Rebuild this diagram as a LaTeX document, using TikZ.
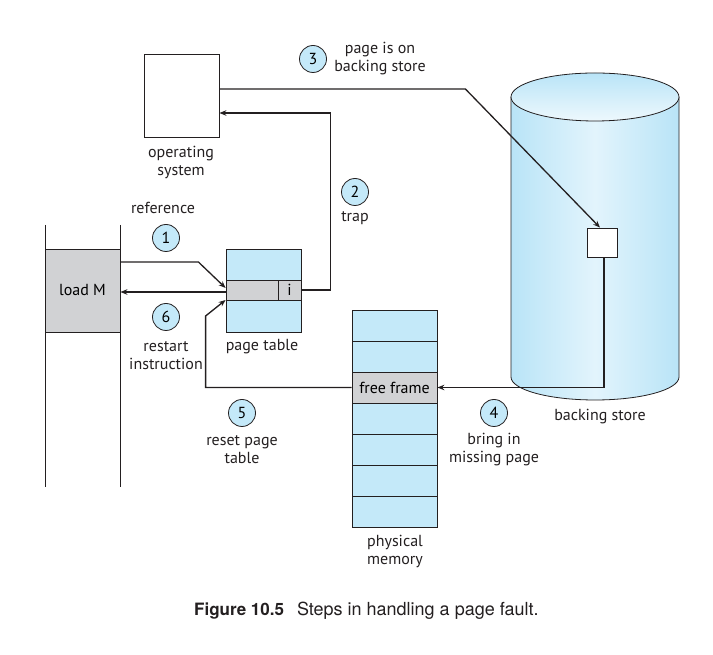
\documentclass[tikz,border=0pt]{standalone}
\usepackage{fontspec}
\setmainfont{PT Sans}
\newfontfamily\capfont{TeX Gyre Heros}
\usetikzlibrary{arrows.meta,positioning}
\definecolor{boxblue}{HTML}{C4E9F9}
\definecolor{boxgray}{HTML}{D1D2D4}
\definecolor{cylA}{HTML}{B9E4F7}
\definecolor{cylB}{HTML}{E2F4FC}
\definecolor{linec}{HTML}{231F20}
\tikzset{
  lbl/.style={font=\fontsize{16}{18}\selectfont, align=center, inner sep=0, text=linec},
  boxb/.style={draw=linec, line width=0.8pt, rectangle, inner sep=0},
  circ/.style={circle, draw=linec, fill=boxblue, line width=0.8pt, minimum size=27pt, inner sep=0, font=\fontsize{16}{18}\selectfont},
  arr/.style={draw=linec, line width=1.3pt, -{Stealth[length=7pt,width=5.5pt]}},
  plain/.style={draw=linec, line width=1.3pt}
}
\begin{document}
\begin{tikzpicture}[x=1pt,y=1pt]
\useasboundingbox (0,0) rectangle (713,655);
% backing store cylinder
\shade[left color=cylA, right color=cylA, middle color=cylB] (511,558) -- (511,278) arc[start angle=180,end angle=360,x radius=84,y radius=23] -- (679,558) arc[start angle=0,end angle=180,x radius=84,y radius=24] -- cycle;
\draw[linec, line width=0.8pt] (511,558) -- (511,278) arc[start angle=180,end angle=360,x radius=84,y radius=23] -- (679,558);
\shade[top color=cylA, bottom color=cylB!60!white] (595,558) ellipse [x radius=84, y radius=24];
\draw[linec, line width=0.8pt] (595,558) ellipse [x radius=84, y radius=24];
\node[lbl] (bslbl) at (600,238) {backing store};
\node[boxb, fill=white, minimum width=30pt, minimum height=29pt] (sq) at (602,412.5) {};
% operating system
\node[boxb, fill=white, minimum width=75pt, minimum height=83pt] (os) at (181.5,559.5) {};
\node[lbl] (oslbl) at (181,493) {operating\\system};
% process memory
\draw[linec, line width=0.8pt] (45,430) -- (45,168);
\draw[linec, line width=0.8pt] (120,430) -- (120,168);
\node[boxb, fill=boxgray, minimum width=75pt, minimum height=83pt, font=\fontsize{16}{18}\selectfont] (loadM) at (82.5,364.5) {load M};
% page table
\node[boxb, fill=boxblue, minimum width=75pt, minimum height=83pt] (pt) at (263.5,364.5) {};
\node[boxb, fill=boxgray, minimum width=52pt, minimum height=20pt] (ptrow) at (252,365) {};
\node[boxb, fill=boxgray, minimum width=23pt, minimum height=20pt, font=\fontsize{16}{18}\selectfont] (icell) at (289.5,365) {i};
\node[lbl] (ptlbl) at (262,308) {page table};
% physical memory
\foreach \n/\yy in {m1/329.5, m2/298.5, m4/236.5, m5/205.5, m6/174.5, m7/143.5}
  \node[boxb, fill=boxblue, minimum width=85pt, minimum height=31pt] (\n) at (394.5,\yy) {};
\node[boxb, fill=boxgray, minimum width=85pt, minimum height=31pt, font=\fontsize{16}{18}\selectfont] (free) at (394.5,267.5) {free frame};
\node[lbl] (pmlbl) at (395,104) {physical\\memory};
% arrows
\draw[arr] ([yshift=28.5]loadM.east) -- ++(78,0) -- ([yshift=2]ptrow.west);
\draw[arr] ([yshift=-2]ptrow.west) -- ([yshift=-2]ptrow.west -| loadM.east);
\draw[arr] (icell.east) -- ++(29,0) |- ([yshift=-17.5]os.east);
\draw[arr] ([yshift=6.5]os.east) -- ++(246,0) -- ([xshift=-2]sq.north);
\draw[arr] ([xshift=2]sq.south) |- (free.east);
\draw[arr] (free.west) -| ++(-146,71.5) -- ([yshift=-10]ptrow.west);
% step circles and labels
\node[circ] (c1) at (166,417) {1};
\node[lbl] (l1) at (163,447) {reference};
\node[circ] (c2) at (355,463) {2};
\node[lbl] (l2) at (355,437) {trap};
\node[circ] (c3) at (313,596) {3};
\node[lbl] (l3) at (380,596) {page is on\\backing store};
\node[circ] (c4) at (494,242) {4};
\node[lbl] (l4) at (494,205) {bring in\\missing page};
\node[circ] (c5) at (242,242) {5};
\node[lbl] (l5) at (242,205) {reset page\\table};
\node[circ] (c6) at (166,338) {6};
\node[lbl] (l6) at (166,299) {restart\\instruction};
% caption
\node[anchor=west, inner sep=0, font=\capfont, text=linec] (cap) at (194,44) {{\fontsize{17}{20}\selectfont\bfseries Figure 10.5}\hspace{13pt}{\fontsize{18}{21}\selectfont Steps in handling a page fault.}};
\end{tikzpicture}
\end{document}
